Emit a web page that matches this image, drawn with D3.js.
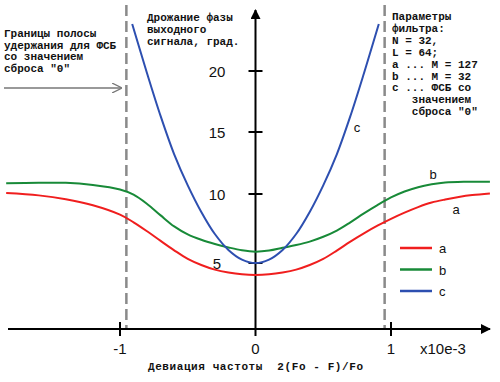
<!DOCTYPE html>
<html><head><meta charset="utf-8">
<script src="https://cdn.jsdelivr.net/npm/d3@7"></script>
<style>
html,body{margin:0;padding:0;background:#fff;}
svg{display:block;}
.mono{font-family:"Liberation Mono","Courier New",monospace;font-size:11px;font-weight:bold;fill:#111;}
.num{font-family:"Liberation Sans",Arial,sans-serif;font-size:15px;fill:#111;}
.lbl{font-family:"Liberation Sans",Arial,sans-serif;font-size:13px;fill:#111;}
</style></head>
<body>
<script>
// ---- data ----
const xTickValues = [-1, 0, 1];
const yTickValues = [5, 10, 15, 20];
const boundaryDev = [-0.953, 0.953];

const aDev    = [-1.84, -1.6, -1.4, -1.2, -1.0, -0.9, -0.8, -0.7, -0.6, -0.5, -0.4, -0.3, -0.2, -0.1, 0, 0.1, 0.2, 0.3, 0.4, 0.5, 0.6, 0.7, 0.8, 0.9, 1.0, 1.1, 1.2, 1.3, 1.4, 1.5, 1.6, 1.73];
const aJitter = [10.08, 9.9, 9.62, 9.18, 8.5, 7.95, 7.3, 6.6, 5.92, 5.3, 4.85, 4.5, 4.28, 4.14, 4.09, 4.14, 4.28, 4.5, 4.85, 5.3, 5.9, 6.55, 7.15, 7.7, 8.2, 8.65, 9.05, 9.38, 9.6, 9.78, 9.92, 10.05];

const bDev    = [-1.84, -1.6, -1.4, -1.2, -1.0, -0.9, -0.8, -0.7, -0.6, -0.5, -0.4, -0.3, -0.2, -0.1, 0, 0.1, 0.2, 0.3, 0.4, 0.5, 0.6, 0.7, 0.8, 0.9, 1.0, 1.1, 1.2, 1.3, 1.4, 1.55, 1.73];
const bJitter = [10.86, 10.9, 10.9, 10.72, 10.36, 9.95, 9.28, 8.45, 7.65, 7.07, 6.68, 6.38, 6.13, 5.92, 5.82, 5.9, 6.1, 6.3, 6.55, 6.9, 7.35, 7.95, 8.6, 9.2, 9.75, 10.2, 10.55, 10.78, 10.93, 10.99, 10.99];

const cDev    = [-0.91, -0.8, -0.7, -0.6, -0.5, -0.4, -0.3, -0.2, -0.1, 0, 0.1, 0.2, 0.3, 0.4, 0.5, 0.6, 0.7, 0.8, 0.91];
const cJitter = [23.85, 19.8, 16.3, 13.2, 10.7, 8.7, 7.1, 5.95, 5.25, 5.0, 5.25, 5.95, 7.1, 8.7, 10.7, 13.2, 16.3, 19.8, 23.85];

const seriesNames = ["a", "b", "c"];
const seriesColors = ["#f01e1e", "#188a38", "#2d4fb0"];

const leftNote = ["Границы полосы", "удержания для ФСБ", "со значением", "сброса \"0\""];
const titleNote = ["Дрожание фазы", "выходного", "сигнала, град."];
const paramNote = ["Параметры", "фильтра:", "N = 32,", "L = 64;", "a ... M = 127", "b ... M = 32", "c ... ФСБ со", "   значением", "   сброса \"0\""];
const xAxisTitle = "Девиация частоты  2(Fo - F)/Fo";
const xUnit = "x10e-3";

// ---- drawing ----
const W = 500, H = 382;
const svg = d3.select("body").append("svg").attr("width", W).attr("height", H);

const x = d3.scaleLinear().domain([-1, 1]).range([120, 391]);
const y = d3.scaleLinear().domain([0, 5, 10, 15, 20]).range([329, 263, 194, 132, 71]);

const defs = svg.append("defs");
defs.append("marker").attr("id", "ahBlack").attr("viewBox", "0 0 10 10").attr("refX", 9).attr("refY", 5)
  .attr("markerWidth", 5).attr("markerHeight", 5).attr("markerUnits", "strokeWidth").attr("orient", "auto")
  .append("path").attr("d", "M0,0 L10,5 L0,10 Z").attr("fill", "#000");
defs.append("marker").attr("id", "ahGrey").attr("viewBox", "0 0 10 10").attr("refX", 9).attr("refY", 5)
  .attr("markerWidth", 7).attr("markerHeight", 7).attr("markerUnits", "strokeWidth").attr("orient", "auto")
  .append("path").attr("d", "M0,0 L10,5 L0,10").attr("fill", "none").attr("stroke", "#777").attr("stroke-width", 1.2);

// boundary dashed lines
svg.selectAll("line.bound").data(boundaryDev).enter().append("line")
  .attr("x1", d => x(d)).attr("x2", d => x(d)).attr("y1", 5).attr("y2", 328)
  .attr("stroke", "#8a8a8a").attr("stroke-width", 2.5).attr("stroke-dasharray", "11,5");

// axes
const x0 = x(0), y0 = y(0);
svg.append("line").attr("x1", 8).attr("x2", 490).attr("y1", y0).attr("y2", y0)
  .attr("stroke", "#000").attr("stroke-width", 2).attr("marker-end", "url(#ahBlack)");
svg.append("line").attr("x1", x0).attr("x2", x0).attr("y1", 336).attr("y2", 10)
  .attr("stroke", "#000").attr("stroke-width", 2).attr("marker-end", "url(#ahBlack)");

// x ticks
svg.selectAll("line.xt").data(xTickValues.filter(d => d !== 0)).enter().append("line")
  .attr("x1", d => x(d)).attr("x2", d => x(d)).attr("y1", y0 - 7).attr("y2", y0 + 7)
  .attr("stroke", "#000").attr("stroke-width", 2);
svg.selectAll("text.xt").data(xTickValues).enter().append("text").attr("class", "num")
  .attr("x", d => x(d)).attr("y", 354).attr("text-anchor", "middle").text(d => d);
svg.append("text").attr("class", "num").attr("x", 420).attr("y", 354).text(xUnit);

// y ticks
svg.selectAll("line.yt").data(yTickValues).enter().append("line")
  .attr("x1", x0 - 7).attr("x2", x0 + 7).attr("y1", d => y(d)).attr("y2", d => y(d))
  .attr("stroke", "#000").attr("stroke-width", 2);
svg.selectAll("text.yt").data(yTickValues).enter().append("text").attr("class", "num")
  .attr("x", 217).attr("y", d => y(d) + 5.5).attr("text-anchor", "middle").text(d => d);

// curves
const series = [
  {name: "a", dev: aDev, val: aJitter},
  {name: "b", dev: bDev, val: bJitter},
  {name: "c", dev: cDev, val: cJitter}
];
const line = d3.line().x(d => x(d[0])).y(d => y(d[1])).curve(d3.curveCatmullRom.alpha(0.5));
series.forEach((s, i) => {
  svg.append("path").datum(s.dev.map((d, j) => [d, s.val[j]]))
    .attr("d", line).attr("fill", "none").attr("stroke", seriesColors[i]).attr("stroke-width", 2);
});

// curve labels
const curveLabelPos = [[456, 214], [433, 179], [357, 132]];
seriesNames.forEach((n, i) => {
  svg.append("text").attr("class", "lbl").attr("x", curveLabelPos[i][0]).attr("y", curveLabelPos[i][1])
    .attr("text-anchor", "middle").text(n);
});

// legend
seriesNames.forEach((n, i) => {
  const ly = 248 + i * 21.5;
  svg.append("line").attr("x1", 400).attr("x2", 432).attr("y1", ly).attr("y2", ly)
    .attr("stroke", seriesColors[i]).attr("stroke-width", 2.5);
  svg.append("text").attr("class", "lbl").attr("x", 439).attr("y", ly + 5).text(n);
});

// annotations
leftNote.forEach((t, i) => svg.append("text").attr("class", "mono").attr("x", 4).attr("y", 37 + i * 11.7)
  .style("white-space", "pre").text(t));
svg.append("line").attr("x1", 4).attr("x2", 121).attr("y1", 88).attr("y2", 88)
  .attr("stroke", "#777").attr("stroke-width", 1.5).attr("marker-end", "url(#ahGrey)");
titleNote.forEach((t, i) => svg.append("text").attr("class", "mono").attr("x", 147).attr("y", 21 + i * 12)
  .style("white-space", "pre").text(t));
paramNote.forEach((t, i) => svg.append("text").attr("class", "mono").attr("x", 392).attr("y", 20 + i * 11.9)
  .style("white-space", "pre").text(t));
svg.append("text").attr("class", "mono").attr("x", 148).attr("y", 370)
  .attr("textLength", 215).attr("lengthAdjust", "spacing")
  .style("white-space", "pre").text(xAxisTitle);
</script>
</body></html>
